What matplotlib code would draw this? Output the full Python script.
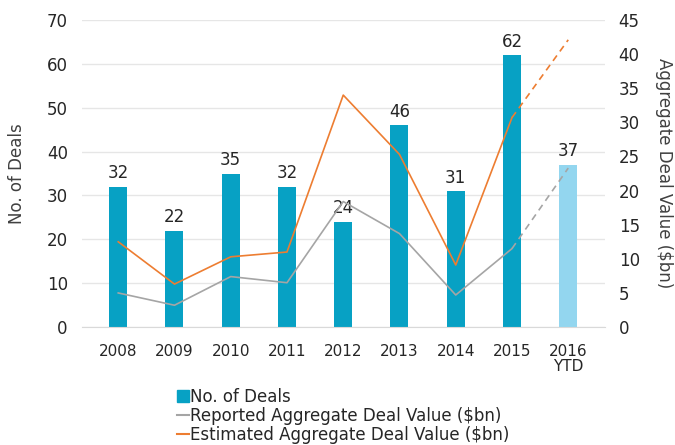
import matplotlib.pyplot as plt
import matplotlib.patches as mpatches
from matplotlib.lines import Line2D
import numpy as np

years = ["2008", "2009", "2010", "2011", "2012", "2013", "2014", "2015", "2016\nYTD"]
deals = [32, 22, 35, 32, 24, 46, 31, 62, 37]
reported = [5.0, 3.2, 7.4, 6.5, 18.4, 13.7, 4.7, 11.5, 23.3]
estimated = [12.5, 6.3, 10.3, 11.0, 34.0, 25.3, 9.1, 30.7, 42.1]

BAR = "#07A1C4"
BAR_LIGHT = "#93D6EF"
ORANGE = "#ED7D31"
GREY = "#A5A5A5"
TXT = "#262626"

plt.rcParams["font.family"] = ["DejaVu Sans"]

fig = plt.figure(figsize=(6.75, 4.45), dpi=100)
ax = fig.add_axes([0.121, 0.265, 0.775, 0.69])
ax2 = ax.twinx()

x = np.arange(len(years))
colors = [BAR] * (len(years) - 1) + [BAR_LIGHT]
ax.bar(x, deals, width=0.32, color=colors, zorder=2)
for xi, v in zip(x, deals):
    ax.text(xi, v + 1.0, str(v), ha="center", va="bottom", fontsize=12, color=TXT)

ax.set_ylim(0, 70)
ax.set_yticks(range(0, 71, 10))
ax.set_xlim(-0.65, len(years) - 0.35)
ax.set_xticks(x)
ax.set_xticklabels(years, fontsize=11, color=TXT, linespacing=1.05)
ax.yaxis.grid(True, color="#E6E6E6", linewidth=1, zorder=0)
ax.set_axisbelow(True)
ax.set_ylabel("No. of Deals", fontsize=12, color="#404040", labelpad=15)
ax.tick_params(axis="y", length=0, labelsize=12, labelcolor=TXT, pad=10)
ax.tick_params(axis="x", length=0, pad=12)

# lines: solid through 2015, dashed into 2016 YTD
ax2.plot(x[:-1], reported[:-1], color=GREY, lw=1.2, zorder=3)
ax2.plot(x[-2:], reported[-2:], color=GREY, lw=1.2, ls=(0, (4, 3)), zorder=3)
ax2.plot(x[:-1], estimated[:-1], color=ORANGE, lw=1.2, zorder=3)
ax2.plot(x[-2:], estimated[-2:], color=ORANGE, lw=1.2, ls=(0, (4, 3)), zorder=3)
ax2.set_ylim(0, 45)
ax2.set_yticks(range(0, 46, 5))
ax2.tick_params(axis="y", length=0, labelsize=12, labelcolor=TXT, pad=10)
ax2.set_ylabel("Aggregate Deal Value ($bn)", fontsize=12, color="#404040",
               rotation=270, labelpad=24)

for a in (ax, ax2):
    for s in a.spines.values():
        s.set_visible(False)
ax.spines["bottom"].set_visible(True)
ax.spines["bottom"].set_color("#D9D9D9")

handles = [
    mpatches.Patch(color=BAR, label="No. of Deals"),
    Line2D([], [], color=GREY, lw=1.5, label="Reported Aggregate Deal Value ($bn)"),
    Line2D([], [], color=ORANGE, lw=1.5, label="Estimated Aggregate Deal Value ($bn)"),
]
fig.legend(handles=handles, loc="upper left", bbox_to_anchor=(0.262, 0.128),
           frameon=False, fontsize=12, handlelength=0.7, handletextpad=0.1,
           labelspacing=0.05, borderpad=0, borderaxespad=0, labelcolor=TXT)

fig.savefig("out.png", dpi=100)
